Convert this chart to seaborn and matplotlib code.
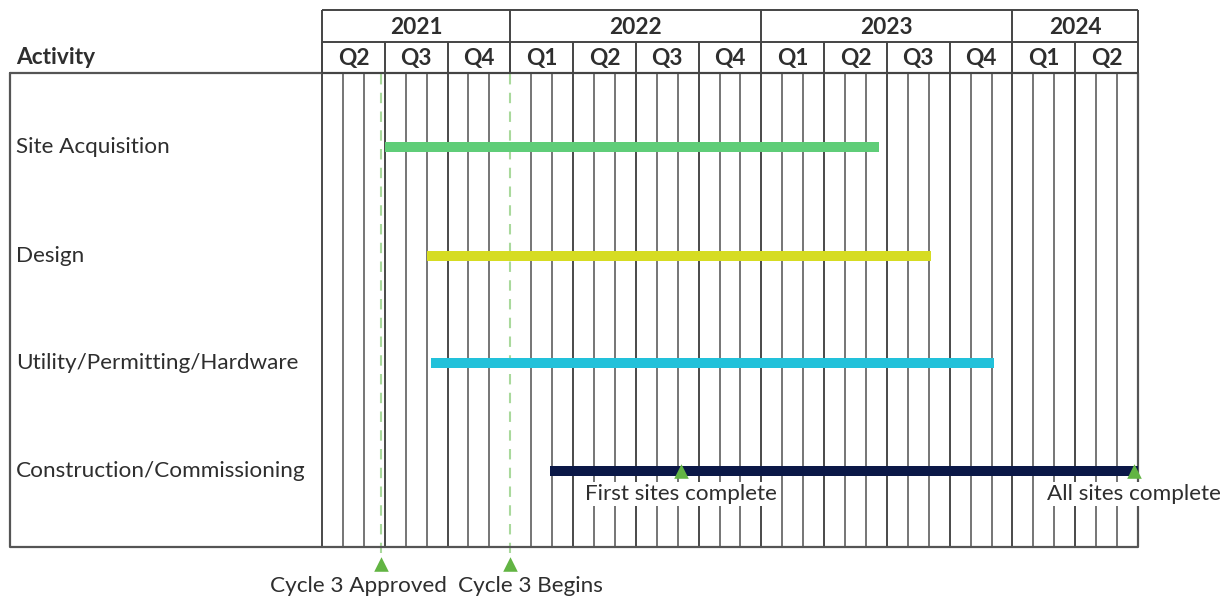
import numpy as np
import pandas as pd
import matplotlib.pyplot as plt
import seaborn as sns

# Data
activities = ["Site Acquisition", "Design", "Utility/Permitting/Hardware", "Construction/Commissioning"]
start_month = [3.0, 5.0, 5.2, 10.9]      # months after April 2021
end_month = [26.6, 29.1, 32.1, 39.0]
bar_colors = ["#5fcd78", "#d6dc22", "#22c1da", "#0b1847"]

years = ["2021", "2022", "2023", "2024"]
quarters_per_year = [3, 4, 4, 2]
quarter_labels = ["Q2", "Q3", "Q4", "Q1", "Q2", "Q3", "Q4", "Q1", "Q2", "Q3", "Q4", "Q1", "Q2"]
n_months = 39

gate_names = ["Cycle 3 Approved", "Cycle 3 Begins"]
gate_month = [2.8, 9.0]
bar_milestones = ["First sites complete", "All sites complete"]
bar_milestone_month = [17.15, 38.8]

# Layout (pixels, figure is 1231 x 600)
W, H = 1231, 600
X0 = 322
MPX = (1138 - 322) / n_months
row_y = [147, 256, 363, 471]
TOP, MID, HDR, BOT, LEFT = 10, 42, 73, 547, 10

sns.set_style("white")
plt.rcParams['font.family'] = ['Lato', 'DejaVu Sans']
TXT = "#2e2e2e"
FS_HEAD = 16.3
FS_LAB = 16.2

fig = plt.figure(figsize=(12.31, 6), dpi=100)
ax = fig.add_axes([0, 0, 1, 1])

px = lambda p: (p - X0) / MPX  # pixel x -> month units
x_end = n_months

# body frame
ax.plot([px(LEFT), x_end, x_end, px(LEFT), px(LEFT)], [HDR, HDR, BOT, BOT, HDR],
        color="#555555", lw=1.6, zorder=3)

# month and quarter lines
for m in range(n_months + 1):
    col = "#3a3a3a" if m % 3 == 0 else "#6a6a6a"
    ax.vlines(m, HDR, BOT, color=col, lw=1.3, zorder=1)

# header
ax.hlines([TOP, MID, HDR], 0, x_end, color="#444444", lw=1.4, zorder=3)
ax.vlines(x_end, TOP, HDR, color="#444444", lw=1.4, zorder=3)
q0 = 0
for yr, nq in zip(years, quarters_per_year):
    ax.vlines(q0 * 3, TOP, HDR, color="#444444", lw=1.4, zorder=3)
    ax.text(q0 * 3 + nq * 1.5, (TOP + MID) / 2 + 1, yr, ha="center", va="center",
            fontsize=FS_HEAD, fontweight="bold", color=TXT)
    q0 += nq
for i, q in enumerate(quarter_labels):
    ax.vlines(i * 3, MID, HDR, color="#444444", lw=1.4, zorder=3)
    ax.text(i * 3 + 1.5, (MID + HDR) / 2 + 1, q, ha="center", va="center",
            fontsize=FS_HEAD, fontweight="bold", color=TXT)
ax.text(px(16), 57, "Activity", ha="left", va="center", fontsize=FS_HEAD,
        fontweight="bold", color=TXT)

# gate dashed lines with white underlay
for gm in gate_month:
    ax.vlines(gm, HDR + 1, BOT + 6, color="white", lw=3, zorder=2)
    ax.vlines(gm, HDR + 1, BOT + 6, color="#a9d99c", lw=1.5,
              linestyles=(0, (5, 4)), zorder=2)

# activity bars
for name, s, e, c, y in zip(activities, start_month, end_month, bar_colors, row_y):
    ax.hlines(y, s, e, color=c, lw=7.2, zorder=4)
    ax.text(px(16), y, name, ha="left", va="center", fontsize=FS_LAB, color=TXT)

# milestones
ms = pd.DataFrame({"month": gate_month + bar_milestone_month,
                   "y": [564, 564] + [row_y[3]] * 2})
sns.scatterplot(data=ms, x="month", y="y", marker="^", s=110, color="#62b443",
                linewidth=0, ax=ax, zorder=6, legend=False)

ax.text(px(358), 586, gate_names[0], ha="center", va="center", fontsize=FS_LAB, color=TXT)
ax.text(px(530), 586, gate_names[1], ha="center", va="center", fontsize=FS_LAB, color=TXT)
for name, m in zip(bar_milestones, bar_milestone_month):
    ax.text(m, 494, name, ha="center", va="center", fontsize=FS_LAB, color=TXT, zorder=5,
            bbox=dict(facecolor="white", edgecolor="none", pad=1.5))

ax.set_xlim(-X0 / MPX, (W - X0) / MPX)
ax.set_ylim(H, 0)
ax.axis("off")

fig.savefig("out.png", dpi=100)
